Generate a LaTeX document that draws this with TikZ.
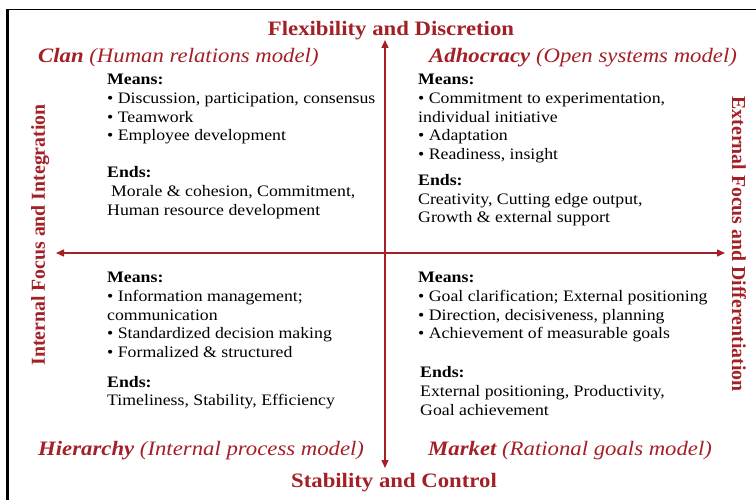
\documentclass[tikz,border=0pt]{standalone}
\usepackage{fontspec}
\setmainfont{Liberation Serif}[FakeStretch=1.11]
\newfontfamily\sidefont{Liberation Serif}
\usetikzlibrary{arrows.meta}
\definecolor{cvred}{RGB}{163,32,38}
\tikzset{
  bodytxt/.style={anchor=base west, inner sep=0pt, font=\fontsize{16}{18.7}\selectfont},
  quadhead/.style={anchor=base west, inner sep=0pt, text=cvred, font=\fontsize{20.5}{24}\selectfont\itshape},
  axistitle/.style={anchor=base, inner sep=0pt, text=cvred, font=\fontsize{20.5}{24}\selectfont\bfseries},
  sidetitle/.style={anchor=base, inner sep=0pt, text=cvred, font=\sidefont\fontsize{19.8}{24}\selectfont\bfseries},
  axis/.style={cvred, line width=1.3pt, {Triangle[length=8pt,width=7pt]}-{Triangle[length=8pt,width=7pt]}},
  frame/.style={black, line width=#1}
}
\newcommand{\bodyline}[4]{\node[bodytxt] (#1) at (#2,#3) {#4};}
\begin{document}
\begin{tikzpicture}[x=1pt,y=-1pt]
\useasboundingbox (0,0) rectangle (756,500);
% outer frame (top and left edges)
\coordinate (fTL) at (7.5,9.5);
\coordinate (fTR) at (756,9.5);
\coordinate (fBL) at (7.5,500);
\draw[frame=1pt] (fTL) -- (fTR);
\draw[frame=2.4pt] (fTL) -- (fBL);

% axes
\coordinate (vTop) at (385,40);
\coordinate (vBot) at (385,468);
\coordinate (hLeft) at (56,253);
\coordinate (hRight) at (725,253);
\draw[axis] (vTop) -- (vBot);
\draw[axis] (hLeft) -- (hRight);

% axis titles
\node[axistitle] (flex) at (391,36) {Flexibility and Discretion};
\node[axistitle] (stab) at (394,487) {Stability and Control};
\node[sidetitle, rotate=90] (internal) at (45,235) {Internal Focus and Integration};
\node[sidetitle, rotate=-90] (external) at (732,244) {External Focus and Differentiation};

% quadrant headings
\node[quadhead] (clan) at (38,63) {\textbf{Clan} (Human relations model)};
\node[quadhead] (adhoc) at (429,63) {\textbf{Adhocracy} (Open systems model)};
\node[quadhead] (hier) at (38,455) {\textbf{Hierarchy} (Internal process model)};
\node[quadhead] (market) at (428,455) {\textbf{Market} (Rational goals model)};

% Clan
\bodyline{c1}{107}{84.5}{\textbf{Means:}}
\bodyline{c2}{107}{103.5}{• Discussion, participation, consensus}
\bodyline{c3}{107}{122.5}{• Teamwork}
\bodyline{c4}{107}{141}{• Employee development}
\bodyline{c5}{107}{177.5}{\textbf{Ends:}}
\bodyline{c6}{111}{196.5}{Morale \& cohesion, Commitment,}
\bodyline{c7}{107}{215.5}{Human resource development}

% Adhocracy
\bodyline{a1}{418}{84.5}{\textbf{Means:}}
\bodyline{a2}{418}{103.5}{• Commitment to experimentation,}
\bodyline{a3}{418}{122.5}{individual initiative}
\bodyline{a4}{418}{141}{• Adaptation}
\bodyline{a5}{418}{159.5}{• Readiness, insight}
\bodyline{a6}{418}{185.5}{\textbf{Ends:}}
\bodyline{a7}{418}{204.5}{Creativity, Cutting edge output,}
\bodyline{a8}{418}{222.5}{Growth \& external support}

% Hierarchy
\bodyline{h1}{107}{282.5}{\textbf{Means:}}
\bodyline{h2}{107}{301.5}{• Information management;}
\bodyline{h3}{107}{320.5}{communication}
\bodyline{h4}{107}{338.5}{• Standardized decision making}
\bodyline{h5}{107}{357.5}{• Formalized \& structured}
\bodyline{h6}{107}{387.5}{\textbf{Ends:}}
\bodyline{h7}{107}{405.5}{Timeliness, Stability, Efficiency}

% Market
\bodyline{m1}{418}{282.5}{\textbf{Means:}}
\bodyline{m2}{418}{301.5}{• Goal clarification; External positioning}
\bodyline{m3}{418}{320.5}{• Direction, decisiveness, planning}
\bodyline{m4}{418}{338.5}{• Achievement of measurable goals}
\bodyline{m5}{420}{377.5}{\textbf{Ends:}}
\bodyline{m6}{420}{396.5}{External positioning, Productivity,}
\bodyline{m7}{420}{415.5}{Goal achievement}
\end{tikzpicture}
\end{document}
